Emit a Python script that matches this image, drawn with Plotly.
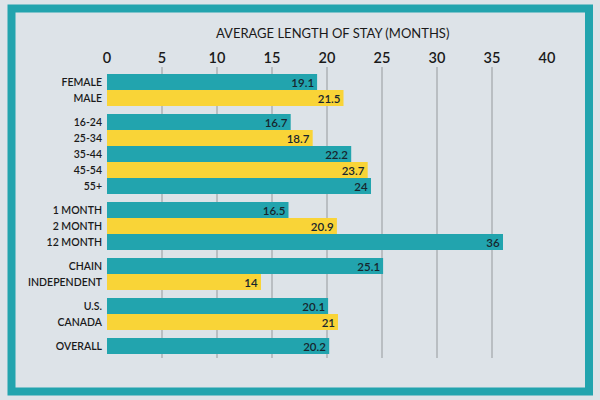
import plotly.graph_objects as go

# ---- data ----
group_gender = ["FEMALE", "MALE"]
vals_gender = [19.1, 21.5]
group_age = ["16-24", "25-34", "35-44", "45-54", "55+"]
vals_age = [16.7, 18.7, 22.2, 23.7, 24]
group_lease = ["1 MONTH", "2 MONTH", "12 MONTH"]
vals_lease = [16.5, 20.9, 36]
group_type = ["CHAIN", "INDEPENDENT"]
vals_type = [25.1, 14]
group_country = ["U.S.", "CANADA"]
vals_country = [20.1, 21]
group_overall = ["OVERALL"]
vals_overall = [20.2]
x_ticks = [0, 5, 10, 15, 20, 25, 30, 35, 40]
title_text = "AVERAGE LENGTH OF STAY (MONTHS)"

groups = [(group_gender, vals_gender), (group_age, vals_age), (group_lease, vals_lease),
          (group_type, vals_type), (group_country, vals_country), (group_overall, vals_overall)]

TEAL = "#22a4ae"
YELLOW = "#f9d437"
BG = "#dde3e8"
FONT = "Lato"
TXT = "#1a1a1a"

cats, vals, pos, colors = [], [], [], []
p = 0.0
for names, vs in groups:
    for i, (n, v) in enumerate(zip(names, vs)):
        cats.append(n)
        vals.append(v)
        pos.append(p)
        colors.append(TEAL if i % 2 == 0 else YELLOW)
        p += 1
    p += 0.5

fig = go.Figure(go.Bar(
    x=vals, y=pos, orientation="h", width=1.0,
    marker=dict(color=colors, line=dict(width=0)),
    text=[f"{v:g}" for v in vals],
    textposition="inside", insidetextanchor="end", textangle=0,
    textfont=dict(family=FONT, size=11.5, color="#17252d", weight=600),
    constraintext="none", cliponaxis=False,
    hoverinfo="skip",
))

L, W, T, H = 107, 440, 67, 291

def px_x(x):
    return (x - L) / W

def px_y(y):
    return (T + H - y) / H

fig.update_layout(
    width=600, height=400,
    margin=dict(l=L, r=600 - L - W, t=T, b=400 - T - H),
    paper_bgcolor=BG, plot_bgcolor=BG,
    showlegend=False,
    font=dict(family=FONT, color=TXT),
    xaxis=dict(range=[0, 40], side="top", tickvals=x_ticks, ticktext=[str(t) for t in x_ticks],
               showgrid=True, gridcolor="#b9bec2", gridwidth=1.5, zeroline=False,
               showline=False, ticks="", tickfont=dict(family=FONT, size=14.5, color=TXT, weight=600),
               fixedrange=True),
    yaxis=dict(range=[17.25, -0.94], tickvals=pos, ticktext=cats, showgrid=False,
               zeroline=False, showline=False, ticks="", ticklabelstandoff=4,
               tickfont=dict(family=FONT, size=10.5, color=TXT, weight=600), fixedrange=True),
    shapes=[dict(type="rect", xref="paper", yref="paper",
                 x0=px_x(11.5), x1=px_x(589), y0=px_y(391.5), y1=px_y(8.5),
                 line=dict(color=TEAL, width=8), fillcolor="rgba(0,0,0,0)", layer="below")],
    annotations=[dict(text=title_text, xref="paper", yref="paper",
                      x=px_x(332), y=px_y(33), showarrow=False,
                      xanchor="center", yanchor="middle",
                      font=dict(family=FONT, size=13, color=TXT))],
)

fig.write_html("out.html")
